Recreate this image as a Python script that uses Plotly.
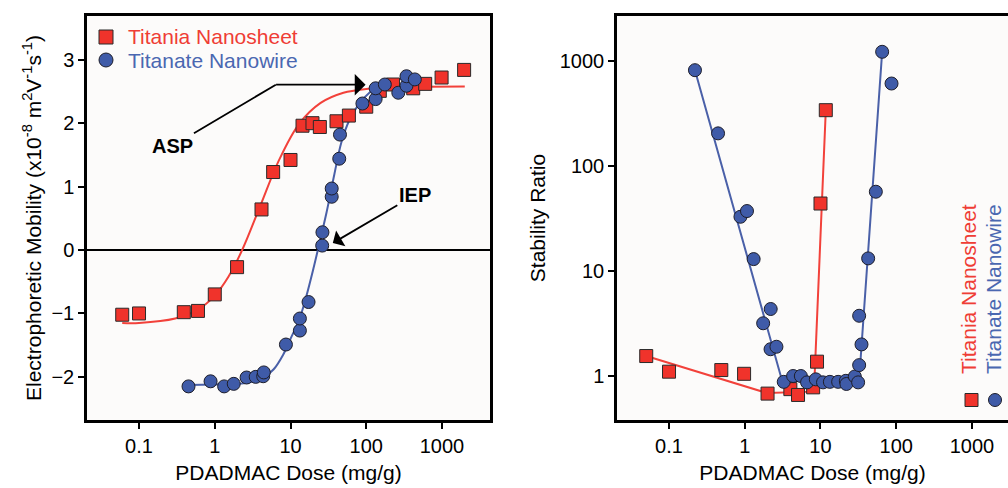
import plotly.graph_objects as go
import math

# ---------------- Left panel: electrophoretic mobility ----------------
sheet_dose = [0.06, 0.1, 0.39, 0.6, 1.0, 1.97, 4.14, 5.9, 10, 14.4, 19.5, 24.4,
              40.5, 59, 100, 151, 226, 417, 600, 988, 1960]
sheet_mob = [-1.02, -1.0, -0.98, -0.96, -0.70, -0.27, 0.64, 1.23, 1.42, 1.96, 2.0, 1.94,
             2.03, 2.12, 2.26, 2.51, 2.61, 2.55, 2.62, 2.72, 2.84]

wire_dose = [0.45, 0.88, 1.33, 1.78, 2.63, 3.47, 4.36, 4.44, 8.7, 13.3, 13.3, 17.3,
             26.2, 26.4, 35, 35, 44, 45, 89, 133, 133, 176, 265, 340, 340, 438]
wire_mob = [-2.15, -2.07, -2.15, -2.11, -2.01, -2.0, -1.99, -1.93, -1.49, -1.27, -1.08, -0.82,
            0.07, 0.28, 0.84, 0.97, 1.44, 1.82, 2.31, 2.38, 2.55, 2.61, 2.48, 2.59, 2.74, 2.69]

# fitted curves
sheet_fit_dose = [0.06, 0.1, 0.3, 0.6, 1.0, 1.5, 2.3, 4.0, 7.0, 13, 25, 50, 100, 300, 2000]
sheet_fit_mob = [-1.15, -1.15, -1.08, -0.94, -0.72, -0.43, 0.0, 0.70, 1.41, 1.99, 2.32, 2.48, 2.54, 2.57, 2.58]

wire_fit_dose = [0.45, 1, 2, 3, 4.5, 6, 8, 10, 13, 16, 20, 24, 30, 38, 47, 60, 80, 110, 160, 250, 460]
wire_fit_mob = [-2.13, -2.12, -2.11, -2.08, -2.0, -1.88, -1.65, -1.4, -1.1, -0.75, -0.3, 0.1,
                0.6, 1.2, 1.7, 2.05, 2.3, 2.48, 2.6, 2.68, 2.72]

# ---------------- Right panel: stability ratio ----------------
sheet_dose_r = [0.05, 0.1, 0.49, 0.98, 2.0, 4.0, 5.05, 8.0, 9.0, 10, 11.75]
sheet_w = [1.55, 1.10, 1.14, 1.05, 0.68, 0.75, 0.66, 0.78, 1.37, 44, 341]

wire_dose_r = [0.22, 0.444, 0.877, 1.07, 1.31, 1.75, 2.2, 2.19, 2.62, 3.27,
               4.35, 5.5, 6.65, 8.67, 10.8, 13.3, 17.1, 21.6, 22.0, 28.4,
               31.4, 32.4, 34.8, 32.4, 42.6, 53.8, 65.2, 86.7]
wire_w = [820, 205, 32.9, 37.3, 13.0, 3.18, 4.35, 1.80, 1.90, 0.88,
          1.0, 1.0, 0.87, 0.93, 0.87, 0.88, 0.88, 0.90, 0.84, 0.99,
          0.87, 1.27, 2.0, 3.75, 13.2, 57, 1227, 612]

sheet_line_dose_r = [0.05, 1.95, 8.2, 11.75]
sheet_line_w = [1.55, 0.69, 0.71, 341]
wire_line_dose_r = [0.22, 3.1, 10, 30, 33.5, 65.2]
wire_line_w = [820, 0.91, 0.89, 0.9, 1.3, 1227]

dose_ticks = [0.1, 1, 10, 100, 1000]
dose_ticktext = ["0.1", "1", "10", "100", "1000"]
series_names = ["Titania Nanosheet", "Titanate Nanowire"]

RED = "#f0332b"
RED_LINE = "#f2413a"
BLUE = "#3f5ba8"
BLUE_LINE = "#4a60a8"
RED_TXT = "#ef3d35"
BLUE_TXT = "#4a67b1"
SQ_EDGE = "#2a2a2a"
CI_EDGE = "#1e1e2a"
FONT = "Liberation Sans, Arial, sans-serif"

fig = go.Figure()

# left: curves
fig.add_trace(go.Scatter(x=sheet_fit_dose, y=sheet_fit_mob, mode="lines",
                         line=dict(color=RED_LINE, width=2, shape="spline"),
                         hoverinfo="skip", xaxis="x", yaxis="y"))
fig.add_trace(go.Scatter(x=wire_fit_dose, y=wire_fit_mob, mode="lines",
                         line=dict(color=BLUE_LINE, width=2, shape="spline"),
                         hoverinfo="skip", xaxis="x", yaxis="y"))
fig.add_trace(go.Scatter(x=sheet_dose, y=sheet_mob, mode="markers", name=series_names[0],
                         marker=dict(symbol="square", size=13, color=RED,
                                     line=dict(color=SQ_EDGE, width=1)),
                         xaxis="x", yaxis="y"))
fig.add_trace(go.Scatter(x=wire_dose, y=wire_mob, mode="markers", name=series_names[1],
                         marker=dict(symbol="circle", size=13, color=BLUE,
                                     line=dict(color=CI_EDGE, width=1)),
                         xaxis="x", yaxis="y"))

# right: lines + markers
fig.add_trace(go.Scatter(x=sheet_line_dose_r, y=sheet_line_w, mode="lines",
                         line=dict(color=RED_LINE, width=2),
                         hoverinfo="skip", xaxis="x2", yaxis="y2"))
fig.add_trace(go.Scatter(x=wire_line_dose_r, y=wire_line_w, mode="lines",
                         line=dict(color=BLUE_LINE, width=2),
                         hoverinfo="skip", xaxis="x2", yaxis="y2"))
fig.add_trace(go.Scatter(x=sheet_dose_r, y=sheet_w, mode="markers", name=series_names[0],
                         marker=dict(symbol="square", size=13, color=RED,
                                     line=dict(color=SQ_EDGE, width=1)),
                         xaxis="x2", yaxis="y2"))
fig.add_trace(go.Scatter(x=wire_dose_r, y=wire_w, mode="markers", name=series_names[1],
                         marker=dict(symbol="circle", size=13, color=BLUE,
                                     line=dict(color=CI_EDGE, width=1)),
                         xaxis="x2", yaxis="y2"))

W, H = 1008, 488
def px(v):
    return v / W
def py(v):
    return 1 - v / H

axis_common = dict(showline=True, linecolor="black", linewidth=2.5, ticks="outside",
                   ticklen=6, tickwidth=2, tickcolor="black", showgrid=False,
                   tickfont=dict(size=20, color="black", family=FONT),
                   title_font=dict(size=21, color="black", family=FONT))

fig.update_layout(
    width=W, height=H,
    margin=dict(l=0, r=0, t=0, b=0),
    paper_bgcolor="white",
    plot_bgcolor="#fcfbfa",
    font=dict(family=FONT, size=20, color="black"),
    showlegend=False,
    xaxis=dict(domain=[px(87), px(490)], type="log", range=[-1.687, 3.634],
               tickvals=dose_ticks, ticktext=dose_ticktext, mirror=True, anchor="y",
               title=dict(text="PDADMAC Dose (mg/g)", standoff=10), zeroline=False,
               **axis_common),
    yaxis=dict(domain=[py(420), py(16)], range=[-2.68, 3.69], tickvals=[-2, -1, 0, 1, 2, 3],
               mirror=True, anchor="x", zeroline=True, zerolinecolor="black", zerolinewidth=2,
               title=dict(text="Electrophoretic Mobility (x10<sup>-8</sup> m<sup>2</sup>V<sup>-1</sup>s<sup>-1</sup>)",
                          standoff=5),
               **axis_common),
    xaxis2=dict(domain=[px(617), 1.0], type="log", range=[-1.687, 3.476],
                tickvals=dose_ticks, ticktext=dose_ticktext, mirror=True, anchor="y2",
                title=dict(text="PDADMAC Dose (mg/g)", standoff=10), zeroline=False,
                **axis_common),
    yaxis2=dict(domain=[py(420), py(16)], type="log", range=[-0.419, 3.43],
                tickvals=[1, 10, 100, 1000], ticktext=["1", "10", "100", "1000"],
                mirror=False, anchor="x2", zeroline=False,
                title=dict(text="Stability Ratio", standoff=9),
                **axis_common),
)

ann_font = dict(size=20, family=FONT, color="black")
fig.add_annotation(xref="x", yref="y", x=math.log10(36.2), y=0.11,
                   ax=82, ay=-48, axref="pixel", ayref="pixel",
                   text="<b>IEP</b>", showarrow=True, arrowhead=1, arrowsize=1.7,
                   arrowwidth=1.8, arrowcolor="black", font=ann_font)
fig.add_annotation(xref="x", yref="y", x=math.log10(6.4), y=2.607,
                   ax=-103, ay=61, text="<b>ASP</b>", showarrow=True, arrowhead=0,
                   arrowwidth=1.8, arrowcolor="black", font=ann_font)
fig.add_annotation(xref="x", yref="y", x=math.log10(98), y=2.607,
                   ax=-91, ay=0, text="", showarrow=True, arrowhead=1, arrowsize=2.0,
                   arrowwidth=1.8, arrowcolor="black")

# left panel legend (symbols + coloured text)
leg_font = 21
for name, col, sym, fill, edge, yc in [
        (series_names[0], RED_TXT, "rect", RED, SQ_EDGE, 37),
        (series_names[1], BLUE_TXT, "circle", BLUE, CI_EDGE, 60)]:
    fig.add_shape(type=sym, xref="paper", yref="paper", xsizemode="pixel", ysizemode="pixel",
                  xanchor=px(106), yanchor=py(yc), x0=-7, x1=7, y0=-7, y1=7,
                  fillcolor=fill, line=dict(color=edge, width=1))
    fig.add_annotation(xref="paper", yref="paper", x=px(126), y=py(yc), xanchor="left",
                       yanchor="middle", showarrow=False, text=name,
                       font=dict(size=leg_font, family=FONT, color=col))

# right panel rotated legend
fig.add_annotation(xref="paper", yref="paper", x=px(968), y=py(376), xanchor="center",
                   yanchor="bottom", textangle=-90, showarrow=False,
                   text=series_names[0], font=dict(size=leg_font, family=FONT, color=RED_TXT))
fig.add_annotation(xref="paper", yref="paper", x=px(993), y=py(376), xanchor="center",
                   yanchor="bottom", textangle=-90, showarrow=False,
                   text=series_names[1], font=dict(size=leg_font, family=FONT, color=BLUE_TXT))
fig.add_shape(type="rect", xref="paper", yref="paper", xsizemode="pixel", ysizemode="pixel",
              xanchor=px(971.5), yanchor=py(400), x0=-6.5, x1=6.5, y0=-6.5, y1=6.5,
              fillcolor=RED, line=dict(color=SQ_EDGE, width=1))
fig.add_shape(type="circle", xref="paper", yref="paper", xsizemode="pixel", ysizemode="pixel",
              xanchor=px(995), yanchor=py(400), x0=-6.5, x1=6.5, y0=-6.5, y1=6.5,
              fillcolor=BLUE, line=dict(color=CI_EDGE, width=1))

fig.write_html("out.html", config={"displayModeBar": False},
               post_script="document.body.style.margin='0px';")
